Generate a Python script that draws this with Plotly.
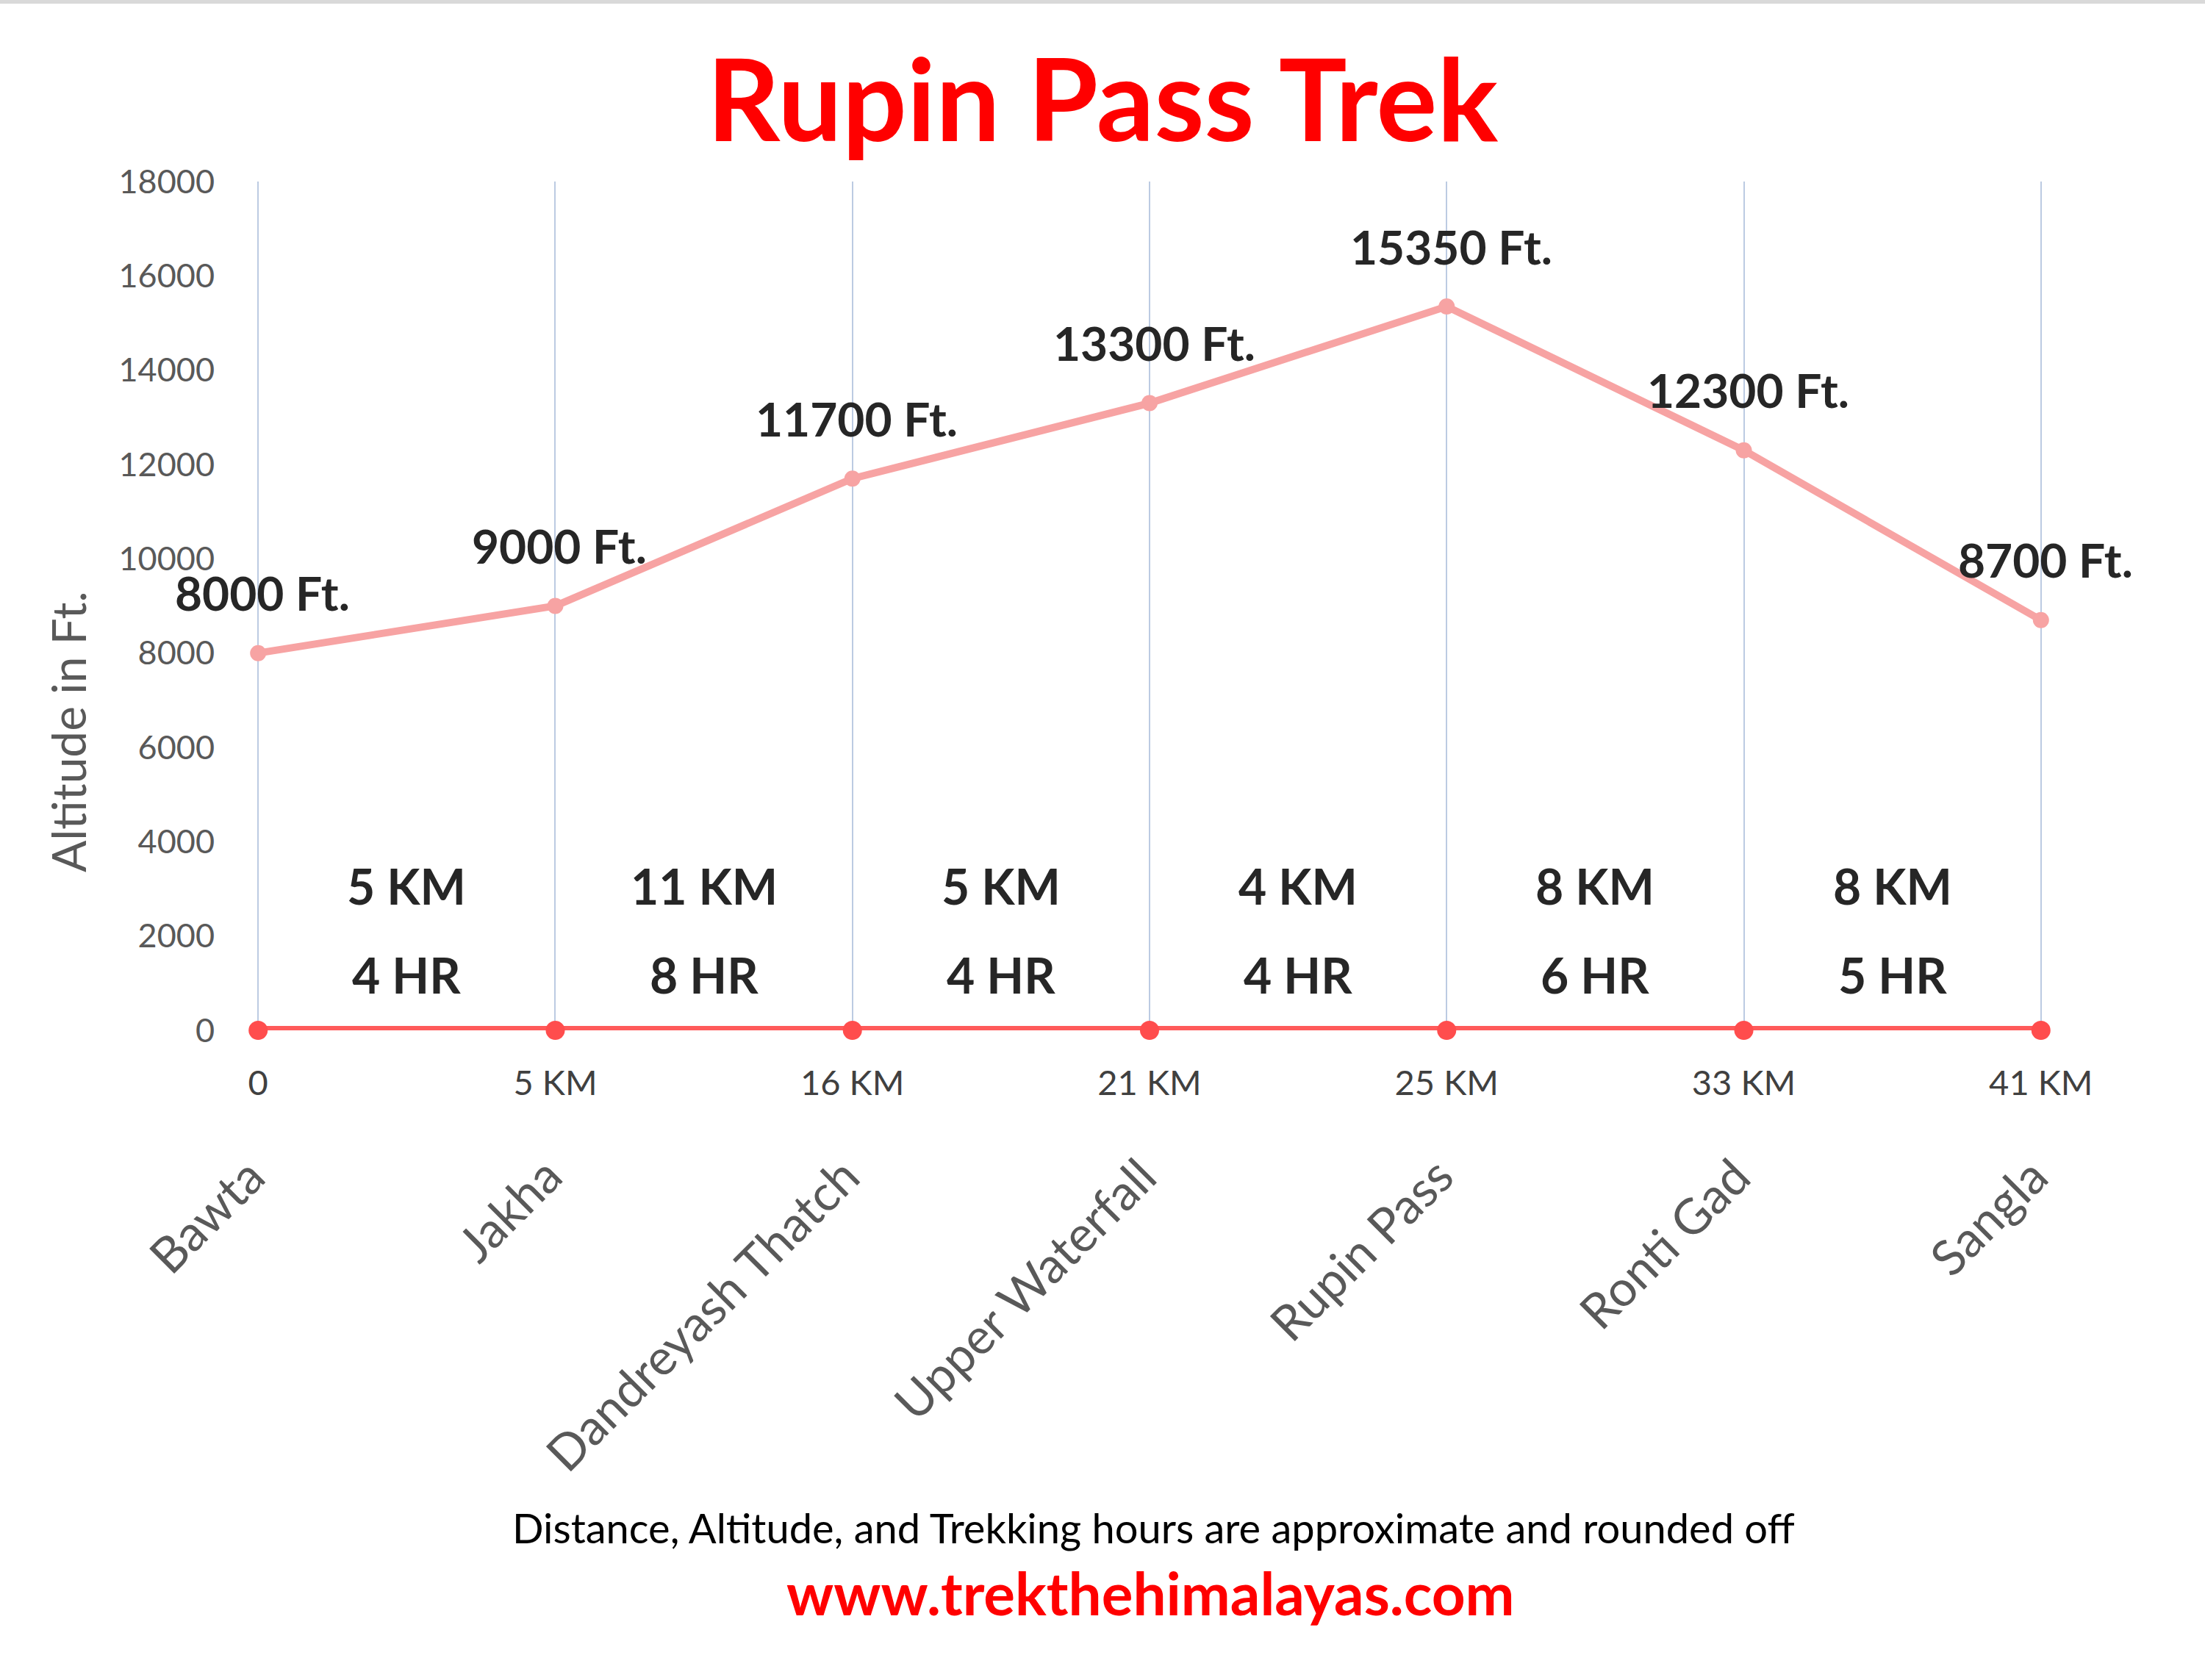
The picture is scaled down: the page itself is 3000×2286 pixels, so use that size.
import plotly.graph_objects as go

# ---- data ----
places = ["Bawta", "Jakha", "Dandreyash Thatch", "Upper Waterfall", "Rupin Pass", "Ronti Gad", "Sangla"]
distance_labels = ["0", "5 KM", "16 KM", "21 KM", "25 KM", "33 KM", "41 KM"]
altitudes = [8000, 9000, 11700, 13300, 15350, 12300, 8700]
baseline = [0, 0, 0, 0, 0, 0, 0]
segment_km = [5, 11, 5, 4, 8, 8]
segment_hr = [4, 8, 4, 4, 6, 5]
y_ticks = [0, 2000, 4000, 6000, 8000, 10000, 12000, 14000, 16000, 18000]

W, H = 3000, 2286
L, R, T, B = 350, 222, 247, 884
PH = H - T - B
PW = W - L - R


def py(pix):
    return (H - B - pix) / PH


def px(pix):
    return (pix - L) / PW


fig = go.Figure()

# altitude line
fig.add_trace(go.Scatter(
    x=places, y=altitudes, mode="lines+markers",
    line=dict(color="#f7a3a3", width=10),
    marker=dict(color="#f7a3a3", size=22),
    cliponaxis=False, hoverinfo="skip", showlegend=False,
))
# baseline (distance axis)
fig.add_trace(go.Scatter(
    x=places, y=baseline, mode="lines+markers",
    line=dict(color="#ff5a5a", width=12),
    marker=dict(color="#ff4d4d", size=26),
    cliponaxis=False, hoverinfo="skip", showlegend=False,
))

ann = []
# altitude labels
for p, a in zip(places, altitudes):
    ann.append(dict(x=p, y=a, xref="x", yref="y", text=f"{a} Ft.", showarrow=False,
                    yshift=82, xshift=6,
                    font=dict(family="Lato", size=64, color="#262626", weight="bold")))
# segment labels
for i, (km, hr) in enumerate(zip(segment_km, segment_hr)):
    ann.append(dict(x=i + 0.5, y=py(1247), xref="x", yref="paper", text=f"{km} KM",
                    showarrow=False, xanchor="center",
                    font=dict(family="Lato", size=66, color="#262626", weight="bold")))
    ann.append(dict(x=i + 0.5, y=py(1368), xref="x", yref="paper", text=f"{hr} HR",
                    showarrow=False, xanchor="center",
                    font=dict(family="Lato", size=66, color="#262626", weight="bold")))
# place names (rotated)
for p in places:
    ann.append(dict(x=p, y=py(1556), xref="x", yref="paper", text=p, showarrow=False,
                    textangle=-45, xanchor="right", yanchor="top", xshift=26,
                    font=dict(family="Lato", size=67, color="#595959")))
# y axis title
ann.append(dict(x=px(92), y=py(996), xref="paper", yref="paper", text="Altitude in Ft.",
                showarrow=False, textangle=-90, xanchor="center", yanchor="middle",
                font=dict(family="Lato", size=64, color="#595959")))
# footer
ann.append(dict(x=px(1569), y=py(2114), xref="paper", yref="paper",
                text="Distance, Altitude, and Trekking hours are approximate and rounded off",
                showarrow=False, xanchor="center",
                font=dict(family="Lato", size=56, color="#000000")))
ann.append(dict(x=px(1565), y=py(2217), xref="paper", yref="paper",
                text="www.trekthehimalayas.com", showarrow=False, xanchor="center",
                font=dict(family="Lato", size=80, color="#ff0000", weight="bold")))

fig.update_layout(
    width=W, height=H,
    margin=dict(l=L, r=R, t=T, b=B),
    paper_bgcolor="white", plot_bgcolor="white",
    title=dict(text="Rupin Pass Trek", x=0.5, xanchor="center", y=1 - 138 / H, yanchor="middle",
               font=dict(family="Lato", size=155, color="#ff0000", weight="bold")),
    annotations=ann,
    shapes=[dict(type="rect", xref="paper", yref="paper", x0=px(0), x1=px(W),
                 y0=py(5), y1=py(-5), fillcolor="#d9d9d9", line=dict(width=0), layer="below")],
    xaxis=dict(
        type="category", range=[-0.003, 6.003], tickvals=places, ticktext=distance_labels,
        showgrid=True, gridcolor="#bccbe2", gridwidth=2, zeroline=False, showline=False,
        ticks="outside", ticklen=31, tickcolor="rgba(0,0,0,0)",
        tickfont=dict(family="Lato", size=47, color="#404040"),
    ),
    yaxis=dict(
        range=[0, 18000], tickvals=y_ticks, ticktext=[str(v) for v in y_ticks],
        showgrid=False, zeroline=False, showline=False,
        ticks="outside", ticklen=48, tickcolor="rgba(0,0,0,0)",
        tickfont=dict(family="Lato", size=45, color="#595959"),
    ),
)

fig.write_html("out.html")
